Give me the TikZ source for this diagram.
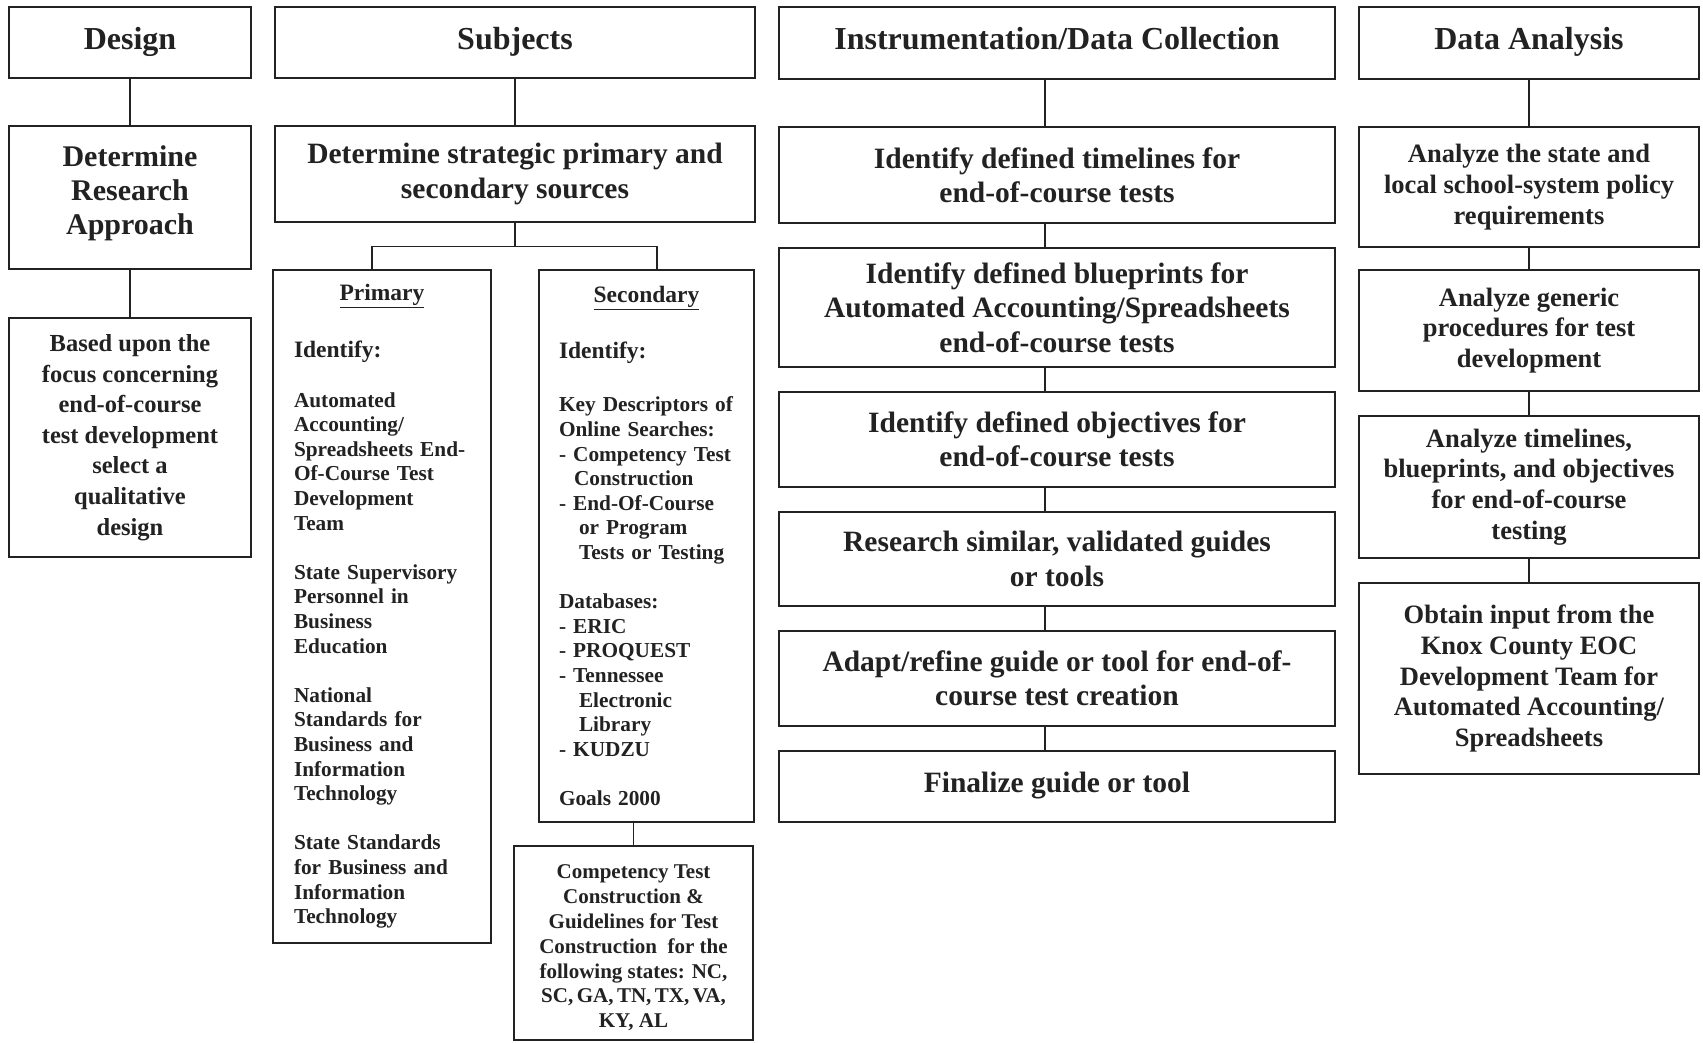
\documentclass[tikz,border=0pt]{standalone}
\usepackage{fontspec}
\setmainfont{Liberation Serif}
\usetikzlibrary{calc}
\definecolor{ink}{HTML}{222222}
\newcommand{\fsHead}{\fontsize{32}{38}\selectfont}
\newcommand{\fsBig}{\fontsize{29.5}{34.3}\selectfont}
\newcommand{\fsMid}{\fontsize{26.5}{30.7}\selectfont}
\newcommand{\fsBased}{\fontsize{24.5}{30.6}\selectfont}
\newcommand{\fsSmall}{\fontsize{21.3}{24.6}\selectfont}
\newcommand{\fsLab}{\fontsize{23.5}{24.6}\selectfont}
\begin{document}
\begin{tikzpicture}[x=1pt,y=-1pt,
  box/.style={draw=ink, line width=1.8pt, inner sep=0pt, align=center, text=ink, font=\bfseries},
  headbox/.style={box, minimum height=71pt, text height=23pt, text depth=9pt, font=\bfseries\fsHead},
  conn/.style={draw=ink, line width=1.6pt}]
\useasboundingbox[fill=white] (0,0) rectangle (1703,1043);

% ---- Design column
\node[headbox, minimum width=242pt] (design) at (130,42.5) {Design};
\node[box, minimum width=242pt, minimum height=143pt, text depth=15pt, font=\bfseries\fontsize{30}{33.8}\selectfont] (dra) at (130,197.5) {Determine\\Research\\Approach};
\node[box, minimum width=242pt, minimum height=239pt, font=\bfseries\fsBased] (based) at (130,437.5) {Based upon the\\focus concerning\\end-of-course\\test development\\select a\\qualitative\\design};
\draw[conn] (design.south) -- (dra.north);
\draw[conn] (dra.south) -- (based.north);

% ---- Subjects column
\node[headbox, minimum width=480pt] (subj) at (515,42.5) {Subjects};
\node[box, minimum width=480pt, minimum height=96pt, font=\bfseries\fsBig] (strat) at (515,174) {Determine strategic primary and\\secondary sources};
\node[box, text width=176pt, inner xsep=21pt, minimum height=673pt, font=\bfseries\fsSmall] (prim) at (382,606.5) {%
\centering{\fsLab\underline{Primary}}\par
\raggedright\vspace{31.5pt}{\fsLab Identify:}\par
\vspace{25.5pt}Automated\\Accounting/\\Spreadsheets End-\\Of-Course Test\\Development\\Team\par
\vspace{24.6pt}State Supervisory\\Personnel in\\Business\\Education\par
\vspace{24.6pt}National\\Standards for\\Business and\\Information\\Technology\par
\vspace{24.6pt}State Standards\\for Business and\\Information\\Technology\par};
\node[box, text width=175pt, inner xsep=20pt, minimum height=552pt, font=\bfseries\fsSmall] (sec) at (646.5,546) {%
\centering{\fsLab\underline{Secondary}}\par
\raggedright\vspace{31.5pt}{\fsLab Identify:}\par
\vspace{28.5pt}Key Descriptors of\\Online Searches:\\- Competency Test\\\hspace*{15pt}Construction\\- End-Of-Course\\\hspace*{20pt}or Program\\\hspace*{20pt}Tests or Testing\par
\vspace{24.6pt}Databases:\\- ERIC\\- PROQUEST\\- Tennessee\\\hspace*{20pt}Electronic\\\hspace*{20pt}Library\\- KUDZU\par
\vspace{24.6pt}Goals 2000\par};
\node[box, minimum width=239pt, minimum height=194pt, font=\bfseries\fontsize{21}{24.8}\selectfont] (comp) at (633.5,943) {\rule{0pt}{24pt}Competency Test\\Construction \&\\Guidelines for Test\\Construction\ \ for the\\following states: NC,\\SC,\,GA,\,TN,\,TX,\,VA,\\KY, AL};
\coordinate (jS) at (515,246.7);
\draw[conn] (subj.south) -- (strat.north);
\draw[conn] (strat.south) -- (jS);
\draw[conn] (prim.north -| 372,0) -- (372,246.7) -- (657,246.7) -- (sec.north -| 657,0);
\draw[conn] (sec.south -| comp.north) -- (comp.north);

% ---- Instrumentation column
\node[headbox, minimum width=556pt, minimum height=72pt] (instr) at (1057,43) {Instrumentation/Data Collection};
\node[box, minimum width=556pt, minimum height=96pt, font=\bfseries\fsBig] (t1) at (1057,175) {Identify defined timelines for\\end-of-course tests};
\node[box, minimum width=556pt, minimum height=119pt, font=\bfseries\fsBig] (t2) at (1057,307.5) {Identify defined blueprints for\\Automated Accounting/Spreadsheets\\end-of-course tests};
\node[box, minimum width=556pt, minimum height=95pt, font=\bfseries\fsBig] (t3) at (1057,439.5) {Identify defined objectives for\\end-of-course tests};
\node[box, minimum width=556pt, minimum height=94pt, font=\bfseries\fsBig] (t4) at (1057,559) {Research similar, validated guides\\or tools};
\node[box, minimum width=556pt, minimum height=95pt, font=\bfseries\fsBig] (t5) at (1057,678.5) {Adapt/refine guide or tool for end-of-\\course test creation};
\node[box, minimum width=556pt, minimum height=71pt, text height=21pt, text depth=9pt, font=\bfseries\fsBig] (t6) at (1057,786.5) {Finalize guide or tool};
\coordinate (xI) at (1045,0);
\draw[conn] (instr.south -| xI) -- (t1.north -| xI);
\draw[conn] (t1.south -| xI) -- (t2.north -| xI);
\draw[conn] (t2.south -| xI) -- (t3.north -| xI);
\draw[conn] (t3.south -| xI) -- (t4.north -| xI);
\draw[conn] (t4.south -| xI) -- (t5.north -| xI);
\draw[conn] (t5.south -| xI) -- (t6.north -| xI);

% ---- Data analysis column
\node[headbox, minimum width=340pt, minimum height=72pt] (da) at (1529,43) {Data Analysis};
\node[box, minimum width=340pt, minimum height=120pt, font=\bfseries\fsMid] (a1) at (1529,187) {Analyze the state and\\local school-system policy\\requirements};
\node[box, minimum width=340pt, minimum height=121pt, font=\bfseries\fsMid] (a2) at (1529,330.5) {Analyze generic\\procedures for test\\development};
\node[box, minimum width=340pt, minimum height=142pt, font=\bfseries\fsMid] (a3) at (1529,487) {Analyze timelines,\\blueprints, and objectives\\for end-of-course\\testing};
\node[box, minimum width=340pt, minimum height=191pt, font=\bfseries\fsMid] (a4) at (1529,678.5) {Obtain input from the\\Knox County EOC\\Development Team for\\Automated Accounting/\\Spreadsheets};
\draw[conn] (da.south) -- (a1.north);
\draw[conn] (a1.south) -- (a2.north);
\draw[conn] (a2.south) -- (a3.north);
\draw[conn] (a3.south) -- (a4.north);
\end{tikzpicture}
\end{document}
